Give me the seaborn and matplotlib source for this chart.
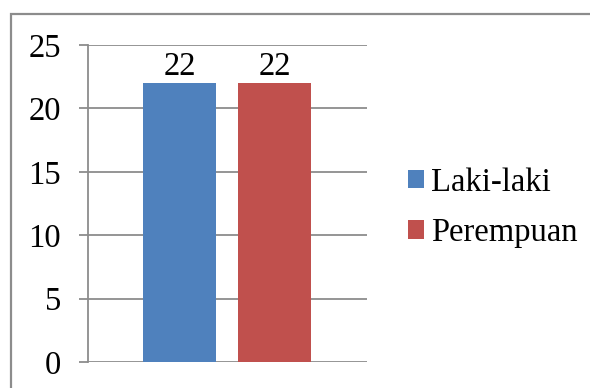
import matplotlib
matplotlib.use("Agg")
import matplotlib.pyplot as plt
import matplotlib.patches as mpatches
import seaborn as sns
import pandas as pd

categories = ["Jenis Kelamin"]
series = ["Laki-laki", "Perempuan"]
values = [22, 22]
colors = ["#4f81bd", "#c0504d"]
yticks = [0, 5, 10, 15, 20, 25]

sns.set_theme(style="white")
plt.rcParams["font.family"] = ["Liberation Serif", "DejaVu Serif"]
plt.rcParams["text.color"] = "black"

df = pd.DataFrame({"cat": categories * len(series), "series": series, "value": values})

fig = plt.figure(figsize=(5.9, 3.88), dpi=100)
ax = fig.add_axes([88/590, 26/388, 279/590, 317/388])

sns.barplot(data=df, x="cat", y="value", hue="series", palette=colors,
            width=0.8, gap=0.232, ax=ax, legend=True, saturation=1)

ax.set_xlim(-0.587, 0.588)
ax.set_ylim(0, 25)
ax.set_yticks(yticks)
ax.set_yticklabels([str(t) for t in yticks], fontsize=23.5, color="black")
ax.set_xticks([])
ax.set_xlabel("")
ax.set_ylabel("")
ax.grid(axis="y", color="#8c8c8c", linewidth=1.3)
ax.set_axisbelow(True)
for s in ["top", "right", "bottom"]:
    ax.spines[s].set_visible(False)
ax.spines["left"].set_color("#8c8c8c")
ax.spines["left"].set_linewidth(1.3)
ax.tick_params(axis="y", direction="out", length=6.5, width=1.3, color="#8c8c8c",
               pad=13, left=True)

for c in ax.containers:
    ax.bar_label(c, labels=[str(int(round(v))) for v in c.datavalues],
                 fontsize=23.5, padding=1, color="black")

for p in ax.patches:
    p.set_edgecolor("none")

leg = ax.legend(loc="center left", bbox_to_anchor=((408 - 88) / 279, 0.487),
                frameon=False, fontsize=23.5, handlelength=0.5, handleheight=0.5,
                handletextpad=0.2, labelspacing=0.62, borderaxespad=0,
                borderpad=0)
for t in leg.get_texts():
    t.set_color("black")

border = mpatches.Rectangle((11/590, -0.1), 1.2, (388-14)/388 + 0.1,
                            transform=fig.transFigure, fill=False,
                            edgecolor="#8c8c8c", linewidth=1.6, clip_on=False)
fig.patches.append(border)

fig.savefig("out.png", dpi=100)
